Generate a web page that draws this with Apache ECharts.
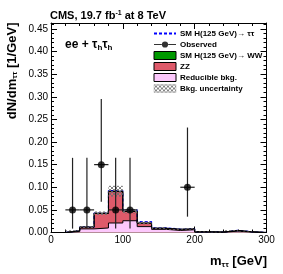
<!DOCTYPE html>
<html><head><meta charset="utf-8">
<script src="https://cdn.jsdelivr.net/npm/echarts@6/dist/echarts.min.js"></script>
<style>html,body{margin:0;padding:0;background:#fff}#c{width:283px;height:274px}</style>
</head><body><div id="c"></div>
<script>
// ---- data ----
const binEdges = [0,20,40,60,80,100,120,140,160,180,200,220,240,260,280];
const binWidth = 20;
const reducible = [0,0.002,0.008,0.010,0.021,0.026,0.013,0.007,0.0045,0.006,0.001,0.0005,0.003,0.001,0];
const zz        = [0,0.002,0.004,0.0322,0.0694,0.0204,0.0076,0.0023,0.0025,0.002,0.0005,0.0005,0.0015,0.0005,0];
const ww        = [0,0,0,0.0004,0.0008,0.0006,0.0004,0.0002,0,0,0,0,0,0,0];
const htt       = [0,0,0,0.0005,0.0015,0.003,0.003,0.001,0.0005,0,0,0,0,0,0];
const bkgErr    = [0,0.001,0.002,0.004,0.012,0.005,0.003,0.0015,0.001,0.0015,0.0005,0.0005,0.001,0.0005,0];
const obsMass = [30,50,70,90,110,190];
const obsVal  = [0.05,0.05,0.15,0.05,0.05,0.10];
const obsLo   = [0.0086,0.0086,0.068,0.0086,0.0086,0.035];
const obsHi   = [0.165,0.165,0.295,0.165,0.165,0.232];
const xTicks = [0,100,200,300];
const yTickStep = 0.05;

// ---- helpers ----
const FONT = 'Liberation Sans';
function cum(...arrs){ return arrs[0].map((_,i)=>arrs.reduce((s,a)=>s+a[i],0)); }
const c1 = cum(reducible);
const c2 = cum(reducible, zz);
const c3 = cum(reducible, zz, ww);
const c4 = cum(reducible, zz, ww, htt);
function stepData(vals){
  const d = binEdges.map((e,i)=>[e, vals[i]]);
  d.push([binEdges[binEdges.length-1]+binWidth, vals[vals.length-1]]);
  return d;
}
function hatch(){
  const c=document.createElement('canvas'); c.width=4; c.height=4;
  const g=c.getContext('2d');
  g.fillStyle='rgba(110,110,110,0.85)';
  [[0,0],[1,1],[2,2],[3,3],[3,0],[2,1],[1,2],[0,3]].forEach(p=>g.fillRect(p[0],p[1],1,1));
  return {image:c, repeat:'repeat'};
}
const hatchFill = hatch();
const bboxPts = ' M0,0h0.01v0.01h-0.01z M0,8h0.01v-0.01h-0.01z M24,0h-0.01v0.01h0.01z';

const chart = echarts.init(document.getElementById('c'), null, {renderer:'canvas'});
const axisCommon = {
  min:0, axisLine:{show:true, onZero:false, lineStyle:{color:'#000', width:1}},
  axisTick:{show:true, inside:true, length:6, lineStyle:{color:'#000'}},
  minorTick:{show:true, splitNumber:5, length:3, lineStyle:{color:'#000'}},
  splitLine:{show:false}
};
const yLabelFmt = v => Math.abs(v/yTickStep - Math.round(v/yTickStep))<1e-6 ? v.toFixed(2) : '';
chart.setOption({
  animation:false,
  grid:{left:51, top:23, right:16.5, bottom:41.5, containLabel:false},
  xAxis:[
    Object.assign({type:'value', max:300, interval:100, position:'bottom',
      axisLabel:{fontFamily:FONT, fontSize:10, color:'#000', margin:3,
        formatter:v=> xTicks.includes(v)? String(v):''}}, axisCommon),
    Object.assign({type:'value', max:300, interval:100, position:'top', axisLabel:{show:false}}, axisCommon)
  ],
  yAxis:[
    Object.assign({type:'value', max:0.463, interval:yTickStep, position:'left',
      axisLabel:{fontFamily:FONT, fontSize:10, color:'#000', margin:3, formatter:yLabelFmt}}, axisCommon),
    Object.assign({type:'value', max:0.463, interval:yTickStep, position:'right', axisLabel:{show:false}}, axisCommon)
  ],
  legend:{
    left:153, top:28, padding:0, orient:'vertical', itemWidth:22, itemHeight:8, itemGap:0,
    textStyle:{fontFamily:FONT, fontSize:8, fontWeight:'bold', color:'#000', lineHeight:11, padding:[0,0,0,-1]},
    data:[
      {name:'SM H(125 GeV)→ ττ', itemStyle:{opacity:0}},
      {name:'Observed', icon:'path://M0,3.5h8.5v1h-8.5z M15.5,3.5h8.5v1h-8.5z M12,0.6a3.4,3.4 0 1,1 0,6.8a3.4,3.4 0 1,1 0,-6.8z'+bboxPts, itemStyle:{color:'#000'}},
      {name:'SM H(125 GeV)→ WW', icon:'rect', itemStyle:{color:'#009900', borderColor:'#000', borderWidth:1}},
      {name:'ZZ', icon:'rect', itemStyle:{color:'#de5a6a', borderColor:'#000', borderWidth:1}},
      {name:'Reducible bkg.', icon:'rect', itemStyle:{color:'#fcc8fc', borderColor:'#000', borderWidth:1}},
      {name:'Bkg. uncertainty', icon:'rect', itemStyle:{color:hatchFill, borderColor:'#aaa', borderWidth:0.5}}
    ]
  },
  title:{text:'CMS, 19.7 fb{s|-1} at 8 TeV', left:50, top:10, padding:0,
    textStyle:{fontFamily:FONT, fontSize:11, fontWeight:'bold', color:'#000',
      rich:{s:{fontFamily:FONT, fontSize:7, fontWeight:'bold', verticalAlign:'top', lineHeight:8, padding:[0,0,6,0]}}}},
  graphic:[
    {type:'text', x:12, y:22.5, rotation:Math.PI/2,
      style:{text:'dN/dm{s|ττ} [1/GeV]', fontFamily:FONT, fontSize:13, fontWeight:'bold', fill:'#000',
        align:'right', verticalAlign:'middle',
        rich:{s:{fontFamily:FONT, fontSize:8, fontWeight:'bold', fill:'#000', padding:[6,0,0,0]}}}},
    {type:'text', x:267, y:261.5,
      style:{text:'m{s|ττ} [GeV]', fontFamily:FONT, fontSize:13, fontWeight:'bold', fill:'#000',
        align:'right', verticalAlign:'middle',
        rich:{s:{fontFamily:FONT, fontSize:8, fontWeight:'bold', fill:'#000', padding:[6,0,0,0]}}}},
    {type:'text', x:65, y:45,
      style:{text:'ee + τ{s|h}τ{s|h}', fontFamily:FONT, fontSize:12, fontWeight:'bold', fill:'#000',
        align:'left', verticalAlign:'middle',
        rich:{s:{fontFamily:FONT, fontSize:8, fontWeight:'bold', fill:'#000', padding:[6,0,0,0]}}}}
  ],
  series:[
    {name:'SM H(125 GeV)→ ττ', type:'line', step:'end', data:stepData(c4), symbol:'none', z:2,
      lineStyle:{color:'#0000ff', type:[3,2], width:1.2}, itemStyle:{color:'#0000ff'}},
    {name:'SM H(125 GeV)→ WW', type:'line', step:'end', data:stepData(c3), symbol:'none', z:2,
      lineStyle:{color:'#000', width:1}, areaStyle:{color:'#009900', opacity:1}, itemStyle:{color:'#009900'}},
    {name:'ZZ', type:'line', step:'end', data:stepData(c2), symbol:'none', z:2,
      lineStyle:{color:'#000', width:1}, areaStyle:{color:'#de5a6a', opacity:1}, itemStyle:{color:'#de5a6a'}},
    {name:'Reducible bkg.', type:'line', step:'end', data:stepData(c1), symbol:'none', z:2,
      lineStyle:{color:'#000', width:1}, areaStyle:{color:'#fcc8fc', opacity:1}, itemStyle:{color:'#fcc8fc'}},
    {name:'Bkg. uncertainty', type:'custom', z:3, itemStyle:{color:hatchFill},
      data:binEdges.map((e,i)=>[e, c3[i]-bkgErr[i], c3[i]+bkgErr[i]]),
      encode:{x:0, y:[1,2]},
      renderItem:(params, api)=>{
        const x0=api.value(0), lo=api.value(1), hi=api.value(2);
        if(hi-lo<=0) return null;
        const p1=api.coord([x0, hi]), p2=api.coord([x0+binWidth, lo]);
        return {type:'rect', shape:{x:p1[0], y:p1[1], width:p2[0]-p1[0], height:p2[1]-p1[1]},
          style:{fill:hatchFill}};
      }},
    {name:'obsErr', type:'custom', z:5,
      data:obsMass.map((m,i)=>[m, obsVal[i], obsLo[i], obsHi[i]]),
      encode:{x:0, y:[1,2,3]},
      renderItem:(params, api)=>{
        const x=api.value(0), y=api.value(1), lo=api.value(2), hi=api.value(3);
        const c=api.coord([x,y]), l=api.coord([x,lo]), h=api.coord([x,hi]);
        const xl=api.coord([x-binWidth/2,y]), xr=api.coord([x+binWidth/2,y]);
        const st={stroke:'#222', lineWidth:1.2};
        return {type:'group', children:[
          {type:'line', shape:{x1:c[0], y1:l[1], x2:c[0], y2:h[1]}, style:st},
          {type:'line', shape:{x1:xl[0], y1:c[1], x2:xr[0], y2:c[1]}, style:st}
        ]};
      }},
    {name:'Observed', type:'scatter', z:6, symbol:'circle', symbolSize:7,
      itemStyle:{color:'#000'}, data:obsMass.map((m,i)=>[m, obsVal[i]])}
  ]
});
</script></body></html>
